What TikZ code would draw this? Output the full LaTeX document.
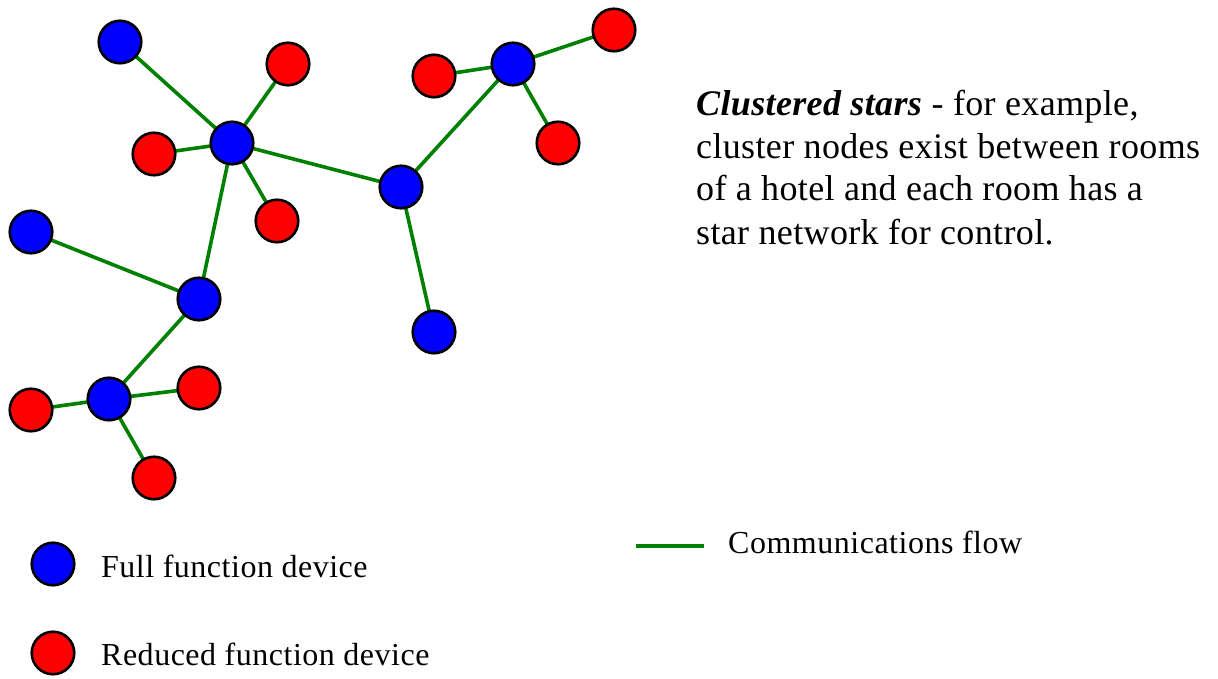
\documentclass[tikz,border=0pt]{standalone}
\usepackage{fontspec}
\setmainfont{Liberation Serif}
\newfontfamily\descfont{Liberation Serif}[LetterSpace=1.0]
\newfontfamily\legfont{Liberation Serif}[LetterSpace=1.6]
\usetikzlibrary{backgrounds}
\definecolor{ffdblue}{RGB}{0,0,255}
\definecolor{rfdred}{RGB}{255,0,0}
\definecolor{flowgreen}{RGB}{0,128,0}
\tikzset{
  dev/.style={circle,draw=black,line width=2.6pt,minimum size=42.5pt,inner sep=0pt},
  ffd/.style={dev,fill=ffdblue},
  rfd/.style={dev,fill=rfdred},
  flow/.style={draw=flowgreen,line width=3.6pt},
  desc/.style={anchor=base west,inner sep=0pt,font=\descfont\fontsize{36pt}{42pt}\selectfont},
  legtext/.style={anchor=base west,inner sep=0pt,font=\legfont\fontsize{32pt}{37pt}\selectfont}
}
\begin{document}
\begin{tikzpicture}[x=1pt,y=-1pt]
\useasboundingbox (0,0) rectangle (1218,679);
% devices
\node[ffd] (b1) at (120,42) {};
\node[ffd] (b2) at (232,143) {};
\node[ffd] (b3) at (401,187) {};
\node[ffd] (b4) at (513,64) {};
\node[ffd] (b5) at (31,232) {};
\node[ffd] (b6) at (199,299) {};
\node[ffd] (b7) at (434,332) {};
\node[ffd] (b8) at (109,399) {};
\node[rfd] (r1) at (288,64) {};
\node[rfd] (r2) at (154,154) {};
\node[rfd] (r3) at (277,221) {};
\node[rfd] (r4) at (434,76) {};
\node[rfd] (r5) at (614,30) {};
\node[rfd] (r6) at (558,143) {};
\node[rfd] (r7) at (31,410) {};
\node[rfd] (r8) at (199,388) {};
\node[rfd] (r9) at (154,478) {};
% connections
\begin{scope}[on background layer]
\draw[flow] (b2.center) -- (b1.center);
\draw[flow] (b2.center) -- (r1.center);
\draw[flow] (b2.center) -- (r2.center);
\draw[flow] (b2.center) -- (r3.center);
\draw[flow] (b2.center) -- (b3.center);
\draw[flow] (b2.center) -- (b6.center);
\draw[flow] (b3.center) -- (b4.center);
\draw[flow] (b3.center) -- (b7.center);
\draw[flow] (b4.center) -- (r4.center);
\draw[flow] (b4.center) -- (r5.center);
\draw[flow] (b4.center) -- (r6.center);
\draw[flow] (b6.center) -- (b5.center);
\draw[flow] (b6.center) -- (b8.center);
\draw[flow] (b8.center) -- (r7.center);
\draw[flow] (b8.center) -- (r8.center);
\draw[flow] (b8.center) -- (r9.center);
\end{scope}
% description
\node[desc] (d1) at (696,116) {\textbf{\textit{Clustered stars}} - for example,};
\node[desc] (d2) at (696,158.5) {cluster nodes exist between rooms};
\node[desc] (d3) at (696,201) {of a hotel and each room has a};
\node[desc] (d4) at (696,244) {star network for control.};
% legend
\node[ffd] (lb) at (53,564) {};
\node[legtext] (lbt) at (101,577) {Full function device};
\node[rfd] (lr) at (53,653) {};
\node[legtext] (lrt) at (101,665) {Reduced function device};
\coordinate (lg1) at (636,546);
\coordinate (lg2) at (704,546);
\draw[flow] (lg1) -- (lg2);
\node[legtext] (lgt) at (728,553) {Communications flow};
\end{tikzpicture}
\end{document}
